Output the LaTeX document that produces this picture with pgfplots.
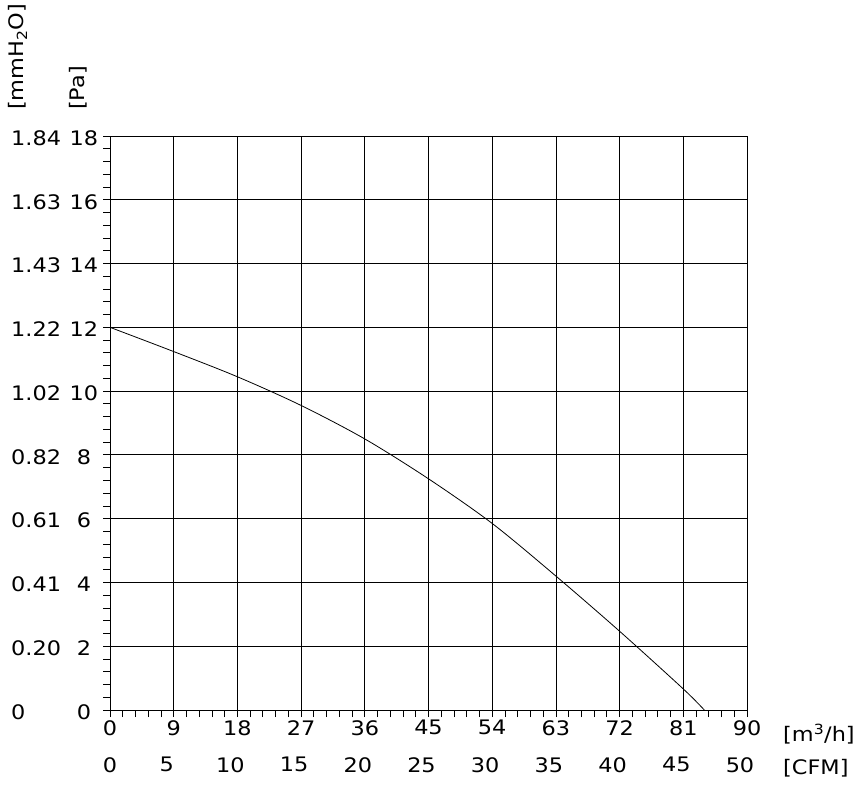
\documentclass[border=0pt]{standalone}
\usepackage{fontspec}
\setmainfont{DejaVu Sans}[FakeStretch=1.12]
\usepackage{pgfplots}
\pgfplotsset{compat=1.18}
\begin{document}
\fontsize{20}{24}\selectfont
\begin{tikzpicture}
\path[use as bounding box] (0,0) rectangle (866pt,788pt);
\begin{axis}[
 at={(110pt,78pt)}, anchor=south west,
 scale only axis, width=637pt, height=574pt,
 xmin=0, xmax=50, ymin=0, ymax=18,
 xtick={0,5,...,50}, ytick={0,2,...,18},
 minor x tick num=4, minor y tick num=4,
 xticklabels={0,9,18,27,36,45,54,63,72,81,90},
 yticklabels={0,2,4,6,8,10,12,14,16,18},
 tick pos=left, tick align=outside,
 major tick length=7pt, minor tick length=7pt,
 grid=major,
 major grid style={black, line width=0.8pt},
 axis line style={black, line width=0.8pt},
 every tick/.style={black, line width=0.8pt},
 xticklabel style={anchor=north, inner sep=0pt, yshift=-3pt},
 yticklabel style={anchor=center, inner sep=0pt, xshift=-19pt, yshift=-2pt},
 /pgf/number format/assume math mode=true,
 xlabel={[m\textsuperscript{3}/h]},
 ylabel={[Pa]},
 xlabel style={at={(rel axis cs:1.0565,-0.0418)}, anchor=west, inner sep=0pt},
 ylabel style={at={(rel axis cs:-0.0502,1.0453)}, anchor=west, inner sep=0pt},
]
\addplot[black, line width=0.8pt, smooth, tension=0.5] coordinates {
(0,12.0) (5,11.24) (10,10.45) (15,9.55) (20,8.50) (25,7.25) (30,5.85)
(35,4.20) (40,2.47) (45,0.66) (46.65,0)
};
\end{axis}
\begin{axis}[
 at={(110pt,78pt)}, anchor=south west,
 scale only axis, width=637pt, height=574pt,
 xmin=0, xmax=50, ymin=0, ymax=18,
 xtick={0,5,...,50}, ytick={0,2,...,18},
 xticklabels={\hspace*{14pt}0,5,10,15,20,25,30,35,40,45,50},
 yticklabels={0,0.20,0.41,0.61,0.82,1.02,1.22,1.43,1.63,1.84},
 tick pos=left, tick align=inside,
 major tick length=0pt, minor tick length=0pt,
 axis line style={draw=none},
 every tick/.style={draw=none},
 xticklabel style={anchor=north, inner sep=0pt, yshift=-47pt, xshift=-7pt},
 yticklabel style={anchor=west, inner sep=0pt, xshift=-99pt, yshift=-2pt},
 /pgf/number format/assume math mode=true,
 xlabel={[CFM]},
 ylabel={[mmH\textsubscript{2}O]},
 xlabel style={at={(rel axis cs:1.0565,-0.1019)}, anchor=west, inner sep=0pt},
 ylabel style={at={(rel axis cs:-0.1444,1.0453)}, anchor=west, inner sep=0pt},
]
\end{axis}
\end{tikzpicture}
\end{document}
